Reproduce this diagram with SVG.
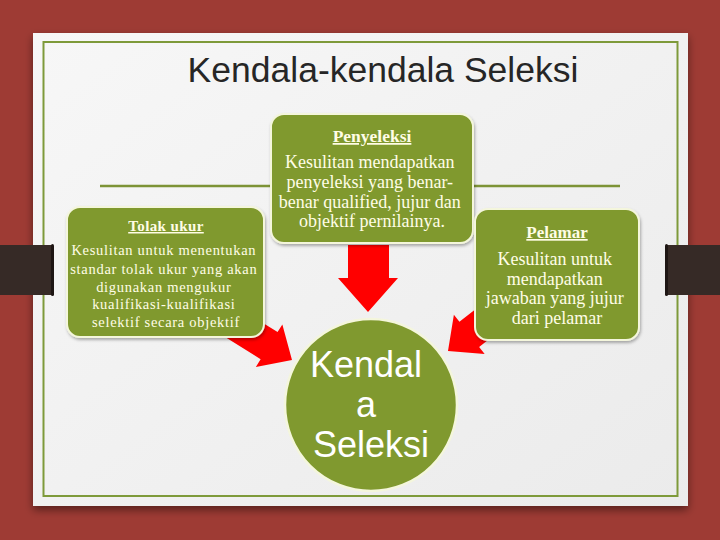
<svg xmlns="http://www.w3.org/2000/svg" width="720" height="540" viewBox="0 0 720 540">
<defs>
<style>
.box{fill:#80992f;stroke:#f4f6dc;stroke-width:2}
.hd{font-family:"Liberation Serif","Times New Roman",serif;font-weight:bold;fill:#fffde6;text-anchor:middle;text-decoration:underline}
.bd{font-family:"Liberation Serif","Times New Roman",serif;fill:#fffde6;text-anchor:middle}
.arr{fill:#ff0000}
.hl{stroke:#7d9336;stroke-width:2.5}
.ct{font-family:"Liberation Sans",Arial,sans-serif;font-size:36px;fill:#ffffff;text-anchor:middle}
</style>
<linearGradient id="pg" x1="0" y1="0" x2="1" y2="1">
<stop offset="0" stop-color="#f7f7f7"/>
<stop offset="1" stop-color="#ebebeb"/>
</linearGradient>
<filter id="sh" x="-10%" y="-10%" width="120%" height="130%">
<feDropShadow dx="0" dy="4" stdDeviation="4" flood-color="#000" flood-opacity="0.45"/>
</filter>
<filter id="bs" x="-10%" y="-10%" width="120%" height="130%">
<feDropShadow dx="1" dy="2" stdDeviation="1.5" flood-color="#000" flood-opacity="0.3"/>
</filter>
</defs>

<rect width="720" height="540" fill="#9e3b34"/>
<rect id="panel" x="33" y="33" width="655" height="473" fill="url(#pg)" filter="url(#sh)"/>
<rect x="43.5" y="42" width="634" height="454" fill="none" stroke="#7e9a3a" stroke-width="2"/>

<g id="straps">
<rect x="0" y="245" width="53" height="50" fill="#362a26"/>
<rect x="51" y="244" width="3" height="52" rx="1.5" fill="#1e1614"/>
<rect x="666" y="245" width="54" height="50" fill="#362a26"/>
<rect x="665" y="244" width="3" height="52" rx="1.5" fill="#1e1614"/>
</g>

<text id="title" x="383" y="82" font-family="'Liberation Sans',Arial,sans-serif" font-size="35.5" fill="#262626" text-anchor="middle">Kendala-kendala Seleksi</text>

<g id="connectors">
<line class="hl" x1="100" y1="186" x2="272" y2="186"/>
<line class="hl" x1="472" y1="186" x2="620" y2="186"/>
<polygon class="arr" points="348,245 389,245 389,278 398,278 368,312 338,278 348,278"/>
<polygon class="arr" transform="translate(292,360) rotate(32)" points="0,0 -27,25 -27,16 -75,16 -75,-16 -27,-16 -27,-25"/>
<polygon class="arr" transform="translate(448,351) rotate(142)" points="0,0 -27,25 -27,16 -75,16 -75,-16 -27,-16 -27,-25"/>
</g>

<g id="penyeleksi">
<rect class="box" x="271" y="114" width="202" height="129" rx="13" filter="url(#bs)"/>
<text class="hd" x="372" y="142" font-size="17.5">Penyeleksi</text>
<text class="bd" font-size="18">
<tspan x="372" y="168">Kesulitan mendapatkan</tspan>
<tspan x="372" y="188">penyeleksi yang benar-</tspan>
<tspan x="372" y="208">benar qualified, jujur dan</tspan>
<tspan x="372" y="227">objektif pernilainya.</tspan>
</text>
</g>

<g id="tolak-ukur">
<rect class="box" x="67" y="207" width="197" height="130" rx="13" filter="url(#bs)"/>
<text class="hd" x="166" y="231" font-size="15" letter-spacing="0.4">Tolak ukur</text>
<text class="bd" font-size="14.5" letter-spacing="0.7">
<tspan x="166" y="255">Kesulitan untuk menentukan</tspan>
<tspan x="166" y="274">standar tolak ukur yang akan</tspan>
<tspan x="166" y="292">digunakan mengukur</tspan>
<tspan x="166" y="309">kualifikasi-kualifikasi</tspan>
<tspan x="166" y="327">selektif secara objektif</tspan>
</text>
</g>

<g id="pelamar">
<rect class="box" x="475" y="209" width="164" height="131" rx="13" filter="url(#bs)"/>
<text class="hd" x="557" y="238" font-size="17">Pelamar</text>
<text class="bd" font-size="18">
<tspan x="557" y="265">Kesulitan untuk</tspan>
<tspan x="557" y="284.5">mendapatkan</tspan>
<tspan x="557" y="304">jawaban yang jujur</tspan>
<tspan x="557" y="323.5">dari pelamar</tspan>
</text>
</g>

<g id="kendala-seleksi">
<circle cx="371" cy="405" r="86" fill="#80992f" stroke="#f4f6dc" stroke-width="2.5"/>
<text class="ct">
<tspan x="371" y="377">Kendal</tspan>
<tspan x="371" y="417">a</tspan>
<tspan x="371" y="457">Seleksi</tspan>
</text>
</g>
</svg>
